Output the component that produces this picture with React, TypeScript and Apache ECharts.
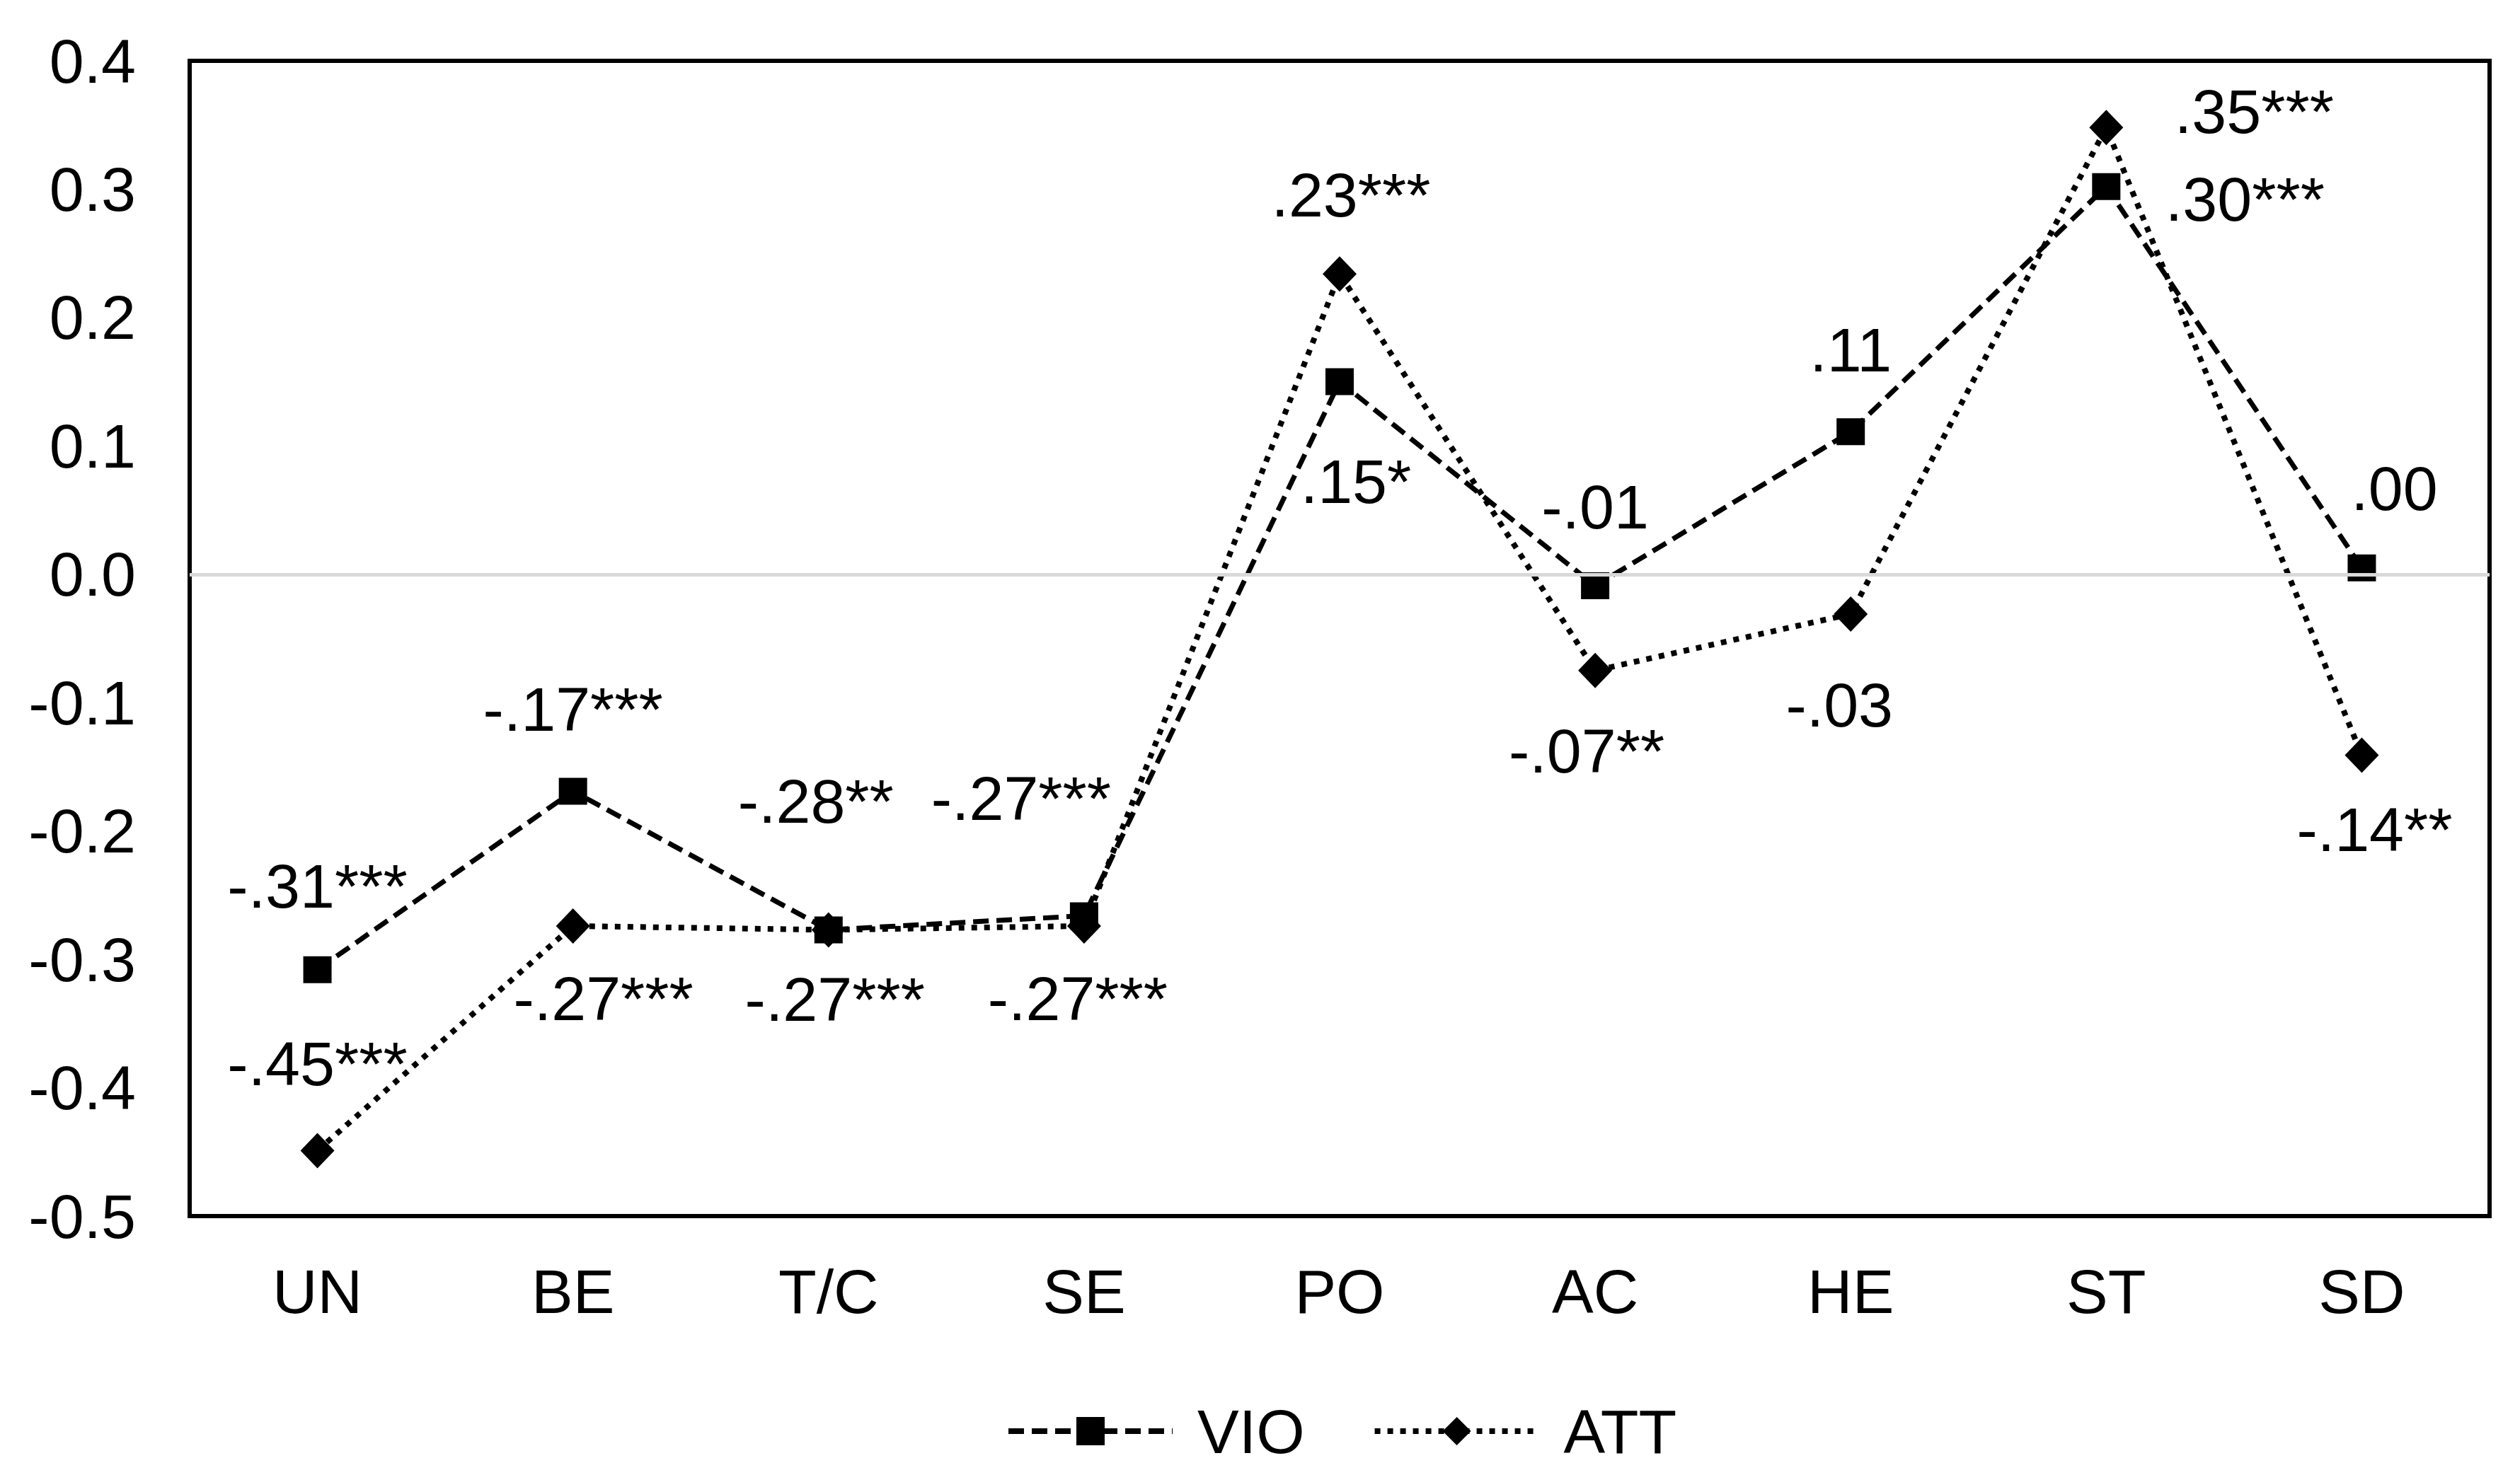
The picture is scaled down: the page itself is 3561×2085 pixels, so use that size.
import React, { useEffect, useRef } from "react";
import * as echarts from "echarts";

const categories = ["UN", "BE", "T/C", "SE", "PO", "AC", "HE", "ST", "SD"];
const vioValues = [-0.308, -0.169, -0.277, -0.266, 0.15, -0.009, 0.111, 0.302, 0.005];
const attValues = [-0.449, -0.274, -0.277, -0.274, 0.234, -0.075, -0.031, 0.348, -0.141];
const vioLabels = ["-.31***", "-.17***", "-.28**", "-.27***", ".15*", "-.01", ".11", ".30***", ".00"];
const attLabels = ["-.45***", "-.27***", "-.27***", "-.27***", ".23***", "-.07**", "-.03", ".35***", "-.14**"];
const yTicks = { min: -0.5, max: 0.4, interval: 0.1 };

// label offsets (px) relative to each marker
const vioOffsets = [[0, -118], [0, -116], [-18, -182], [-89, -166], [23, 141], [0, -112], [0, -116], [196, 18], [46, -112]];
const attOffsets = [[0, -123], [43, 103], [9, 98], [-9, 103], [16, -112], [-12, 114], [-16, 128], [209, -23], [18, 105]];

const FONT = "'Liberation Sans', Arial, sans-serif";
const FS = 88;
const VIO_DASH = [22, 11];
const ATT_DASH = [8, 10];

export default function App() {
  const ref = useRef<HTMLDivElement>(null);
  useEffect(() => {
    if (!ref.current) return;
    const chart = echarts.init(ref.current, undefined, { renderer: "svg" });
    const mk = (vals: number[], labels: string[], offs: number[][]) =>
      vals.map((v, i) => ({
        value: v,
        label: { show: true, formatter: labels[i], offset: offs[i] },
      }));
    const labelStyle = {
      show: true,
      position: "inside",
      color: "#000",
      fontFamily: FONT,
      fontSize: FS,
    };
    chart.setOption({
      animation: false,
      backgroundColor: "#fff",
      textStyle: { fontFamily: FONT },
      grid: {
        left: 268,
        right: 43,
        top: 86,
        bottom: 366,
        show: true,
        borderColor: "#000",
        borderWidth: 6,
        backgroundColor: "transparent",
      },
      legend: {
        data: [
          { name: "VIO", lineStyle: { color: "#000", width: 8, type: VIO_DASH } },
          { name: "ATT", lineStyle: { color: "#000", width: 8, type: ATT_DASH } },
        ],
        left: 1416,
        top: 1974,
        itemWidth: 232,
        itemHeight: 50,
        itemGap: 95,
        textStyle: {
          fontFamily: FONT,
          fontSize: FS,
          color: "#000",
          lineHeight: 88,
          padding: [0, 0, 0, 30],
        },
      },
      xAxis: {
        type: "category",
        data: categories,
        axisLine: { show: false },
        axisTick: { show: false },
        axisLabel: { fontFamily: FONT, fontSize: FS, color: "#000", margin: 62 },
        splitLine: { show: false },
      },
      yAxis: {
        type: "value",
        min: yTicks.min,
        max: yTicks.max,
        interval: yTicks.interval,
        axisLine: { show: false },
        axisTick: { show: false },
        splitLine: { show: false },
        axisLabel: {
          fontFamily: FONT,
          fontSize: FS,
          color: "#000",
          margin: 76,
          formatter: (v: number) => (Math.abs(v) < 1e-9 ? "0.0" : v.toFixed(1)),
        },
      },
      series: [
        {
          name: "zero",
          type: "line",
          data: [],
          z: 1,
          silent: true,
          markLine: {
            silent: true,
            symbol: ["none", "none"],
            label: { show: false },
            lineStyle: { color: "#d9d9d9", width: 5, type: "solid" },
            data: [{ yAxis: 0 }],
          },
        },
        {
          name: "VIO",
          type: "line",
          z: 3,
          data: mk(vioValues, vioLabels, vioOffsets),
          symbol: "rect",
          symbolSize: [40, 38],
          itemStyle: { color: "#000" },
          lineStyle: { color: "#000", width: 7, type: VIO_DASH, cap: "butt" },
          label: labelStyle,
        },
        {
          name: "ATT",
          type: "line",
          z: 3,
          data: mk(attValues, attLabels, attOffsets),
          symbol: "diamond",
          symbolSize: [48, 50],
          itemStyle: { color: "#000" },
          lineStyle: { color: "#000", width: 8, type: ATT_DASH, cap: "butt" },
          label: labelStyle,
        },
      ],
    });
    return () => chart.dispose();
  }, []);
  return (
    <div
      ref={ref}
      style={{ position: "fixed", left: 0, top: 0, width: 3561, height: 2085, background: "#fff" }}
    />
  );
}
